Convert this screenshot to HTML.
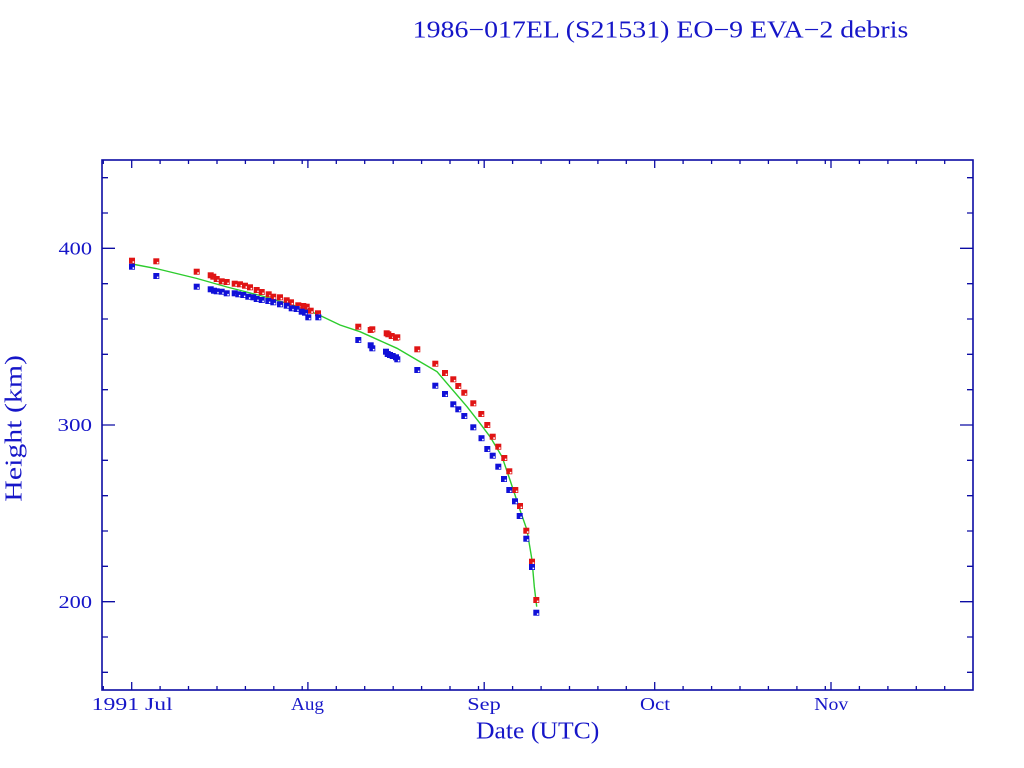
<!DOCTYPE html>
<html>
<head>
<meta charset="utf-8">
<style>
html,body{margin:0;padding:0;background:#fff;}
svg{display:block;}
text{font-family:"Liberation Serif","DejaVu Serif",serif;fill:#1616c8;}
</style>
</head>
<body>
<svg width="1024" height="768" viewBox="0 0 1024 768" xmlns="http://www.w3.org/2000/svg">
<defs>
<marker id="mr" markerUnits="userSpaceOnUse" markerWidth="8" markerHeight="8" refX="4" refY="4" orient="0" overflow="visible">
<rect x="1" y="1" width="6" height="6" fill="#e01414"/><rect x="4.6" y="4.6" width="1.6" height="1.6" fill="#fff"/>
</marker>
<marker id="mb" markerUnits="userSpaceOnUse" markerWidth="8" markerHeight="8" refX="4" refY="4" orient="0" overflow="visible">
<rect x="1" y="1" width="6" height="6" fill="#1010d8"/><rect x="4.6" y="4.6" width="1.6" height="1.6" fill="#fff"/>
</marker>
</defs>
<rect width="1024" height="768" fill="#fff"/>

<text x="412.7" y="37.5" font-size="24" textLength="495.6" lengthAdjust="spacingAndGlyphs">1986−017EL (S21531) EO−9 EVA−2 debris</text>

<rect x="102" y="160" width="871" height="530" fill="none" stroke="#0c0ca4" stroke-width="1.6"/>

<g stroke="#0c0ca4" stroke-width="1.3" fill="none">
<path d="M102 601.7h13M102 425h13M102 248.3h13M973 601.7h-13M973 425h-13M973 248.3h-13"/>
<path d="M102 672.3h6M102 637h6M102 566.3h6M102 531h6M102 495.7h6M102 460.3h6M102 389.7h6M102 354.3h6M102 319h6M102 283.7h6M102 213h6M102 177.7h6"/>
<path d="M973 672.3h-6M973 637h-6M973 566.3h-6M973 531h-6M973 495.7h-6M973 460.3h-6M973 389.7h-6M973 354.3h-6M973 319h-6M973 283.7h-6M973 213h-6M973 177.7h-6"/>
<path d="M131.7 690v-8M307.9 690v-8M484.2 690v-8M654.7 690v-8M831 690v-8M131.7 160v8M307.9 160v8M484.2 160v8M654.7 160v8M831 160v8"/>
<path d="M103.3 690v-4M160.1 690v-4M188.5 690v-4M217 690v-4M245.4 690v-4M273.8 690v-4M302.2 690v-4M336.3 690v-4M364.7 690v-4M393.2 690v-4M421.6 690v-4M450 690v-4M478.5 690v-4M512.6 690v-4M541.1 690v-4M569.5 690v-4M597.9 690v-4M626.3 690v-4M683.1 690v-4M711.6 690v-4M740 690v-4M768.4 690v-4M796.9 690v-4M825.3 690v-4M859.4 690v-4M887.9 690v-4M916.3 690v-4M944.7 690v-4"/>
<path d="M103.3 160v4M160.1 160v4M188.5 160v4M217 160v4M245.4 160v4M273.8 160v4M302.2 160v4M336.3 160v4M364.7 160v4M393.2 160v4M421.6 160v4M450 160v4M478.5 160v4M512.6 160v4M541.1 160v4M569.5 160v4M597.9 160v4M626.3 160v4M683.1 160v4M711.6 160v4M740 160v4M768.4 160v4M796.9 160v4M825.3 160v4M859.4 160v4M887.9 160v4M916.3 160v4M944.7 160v4"/>
</g>

<text x="58.5" y="254.5" font-size="18" textLength="33.5" lengthAdjust="spacingAndGlyphs">400</text>
<text x="57.5" y="431" font-size="18" textLength="34.5" lengthAdjust="spacingAndGlyphs">300</text>
<text x="58.5" y="608" font-size="18" textLength="33.5" lengthAdjust="spacingAndGlyphs">200</text>

<text x="91.7" y="710" font-size="18" textLength="81" lengthAdjust="spacingAndGlyphs">1991 Jul</text>
<text x="291" y="710" font-size="18" textLength="33" lengthAdjust="spacingAndGlyphs">Aug</text>
<text x="467.3" y="710" font-size="18" textLength="33.4" lengthAdjust="spacingAndGlyphs">Sep</text>
<text x="640" y="710" font-size="18" textLength="30" lengthAdjust="spacingAndGlyphs">Oct</text>
<text x="814.3" y="710" font-size="18" textLength="34" lengthAdjust="spacingAndGlyphs">Nov</text>

<text x="476" y="738.3" font-size="24" textLength="123.3" lengthAdjust="spacingAndGlyphs">Date (UTC)</text>
<text transform="translate(21.7,501.7) rotate(-90)" x="0" y="0" font-size="24" textLength="146.7" lengthAdjust="spacingAndGlyphs">Height (km)</text>

<polyline fill="none" stroke="#2ccc2c" stroke-width="1.4" points="132,264 156,268.5 197,278.5 227,287 262,296 298,306.5 318,314.5 340,325 360,331.7 397,348.3 417,360 437,371.7 467,406.7 480,423.3 490,436.7 502,456.7 510,480 520,510 527,530 532,560 534.3,586.7 536.7,606.7"/>

<polyline fill="none" stroke="none" marker-start="url(#mr)" marker-mid="url(#mr)" marker-end="url(#mr)"
points="132,260.7 156.3,261.3 196.7,271.7 210.7,275.3 213.3,276.7 216.7,279 221.7,281.3 226.7,282 234.7,283.7 240,284.3 245,285.7 250,287.3 256.7,290 261.7,292 268.7,294.3 273.3,296.7 280,297.3 286.7,300.3 291,302.3 298.3,305.3 303.3,306 306.7,306.7 310.7,310.7 318,313.3 358.3,326.7 370.7,330 372.3,329.3 386.7,333.3 388.3,334.3 391.7,336 396,337.7 397.3,337.3 417.3,349.3 435.3,363.7 445,373 453.3,379.3 458.3,386 464.3,392.7 473.3,403.3 481.3,414 487.3,425 492.7,436.7 498.3,446.7 504.3,458 509.3,471.3 515.3,490 520,506 526.3,530.7 532,561.7 536.3,600"/>

<polyline fill="none" stroke="none" marker-start="url(#mb)" marker-mid="url(#mb)" marker-end="url(#mb)"
points="132,266.7 156.3,276 196.7,286.7 210.7,289.3 214,290.7 216.7,291.3 221.7,291.7 226.7,293.3 234.7,293.3 238.3,294.3 243.3,295 248.3,296.7 253.3,297.3 256.7,299 261.7,300 268.3,301 273.3,302.3 280,304.3 286.7,305.7 291.7,308.3 296.7,309 301.7,311.7 305,312.7 308.3,317.3 318.3,317.3 358.3,340 370.7,345.3 372.3,348.3 386,351.7 387.7,354 390,355 392.7,356 396,357.3 397.3,359.3 417.3,370 435.3,385.7 445,394 453.3,404.3 458.3,409.3 464.3,416 473.3,427.3 481.5,438.2 487.3,449 492.7,455.7 498.3,466.7 504,479 509.3,490 515,501.3 519.7,516 526.3,538.7 532,567 536.3,612.7"/>
</svg>
</body>
</html>
